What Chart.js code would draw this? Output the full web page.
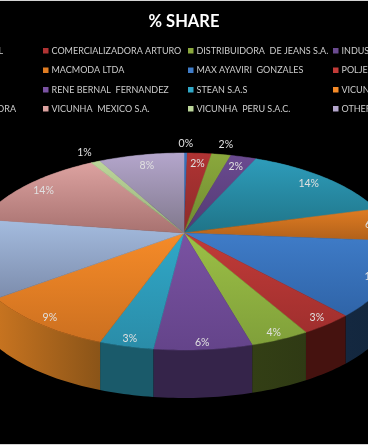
<!DOCTYPE html>
<html>
<head>
<meta charset="utf-8">
<title>% SHARE</title>
<script src="https://cdn.jsdelivr.net/npm/chart.js@4/dist/chart.umd.min.js"></script>
<style>
  html, body { margin: 0; padding: 0; background: #000; overflow: hidden; }
  canvas { display: block; }
</style>
</head>
<body>
<canvas id="share" width="368" height="445"></canvas>
<script>
// names in the first and last legend columns are cut off by the picture edge,
// only the part that can be read is kept
const categories = [
  'L', 'COMERCIALIZADORA ARTURO', 'DISTRIBUIDORA  DE JEANS S.A.', 'INDUS',
  '', 'MACMODA LTDA', 'MAX AYAVIRI  GONZALES', 'POLJE',
  '', 'RENE BERNAL  FERNANDEZ', 'STEAN S.A.S', 'VICUN',
  'ORA', 'VICUNHA  MEXICO S.A.', 'VICUNHA  PERU S.A.C.', 'OTHERS'
];
const shares = [0.3, 2.2, 1.75, 2.35, 14.1, 5.6, 12.1, 3.45, 3.8, 6.2, 3.45, 9.2, 12.8, 14, 0.85, 7.75];

const topColors = ['#3a74bc', '#b03333', '#8aa83c', '#6a4a90', '#2e9cba', '#e07c22', '#3f7cc8', '#c23b38', '#9cc046', '#7a52a2', '#30a8c8', '#f68b28', '#a4bcdf', '#dca2a0', '#bcd69a', '#b4a6cc'];
const lowColors = ['#2a5a98', '#8c2b2a', '#6f8a32', '#533a72', '#1f7488', '#b0601a', '#2f64a8', '#a02f2e', '#80a03a', '#64448a', '#2a8ca8', '#cc7020', '#7c8cac', '#a87270', '#98b07a', '#80788c'];
const wallColors = ['#142840', '#45120f', '#333f15', '#35244a', '#1a5a6a', '#8a5018', '#142840', '#45120f', '#333f15', '#35244a', '#1a5a6a', '#c87420', '#50607c', '#6a4442', '#5c6c48', '#4c4458'];
const wallEnds = ['#142840', '#45120f', '#333f15', '#2e2040', '#1a5a6a', '#8a5018', '#12263c', '#45120f', '#2f3a14', '#35244a', '#1a5a6a', '#8a5418', '#50607c', '#6a4442', '#5c6c48', '#4c4458'];

// perspective of the tilted disc
const apexX = 184, apexY = 233, spanX = 209, spanY = 95, tilt = 0.188, depth = 48;

function project(u, v) {
  const w = 1 - tilt * v;
  return { x: apexX + spanX * u / w, y: apexY + spanY * v / w };
}

function rimPoints(arc) {
  const pts = [];
  const steps = Math.max(2, Math.ceil((arc.endAngle - arc.startAngle) / 0.02));
  for (let i = 0; i <= steps; i++) {
    const a = arc.startAngle + (arc.endAngle - arc.startAngle) * i / steps;
    pts.push(project(Math.cos(a), Math.sin(a)));
  }
  return pts;
}

const tiltedPie = {
  id: 'tiltedPie',
  beforeDraw(chart) {
    const ctx = chart.ctx;
    ctx.fillStyle = '#000';
    ctx.fillRect(0, 0, 368, 445);
    ctx.fillStyle = '#d4d4d4';
    ctx.fillRect(0, 0, 368, 1);
    ctx.fillRect(0, 444, 368, 1);
  },
  beforeDatasetsDraw(chart) {
    const ctx = chart.ctx;
    const arcs = chart.getDatasetMeta(0).data.map(el => el.getProps(['startAngle', 'endAngle']));
    ctx.save();

    // side wall first, the top face paints over the part that is hidden
    arcs.forEach((arc, i) => {
      const pts = rimPoints(arc);
      const g = ctx.createLinearGradient(pts[pts.length - 1].x, 0, pts[0].x, 0);
      g.addColorStop(0, wallColors[i]);
      g.addColorStop(1, wallEnds[i]);
      ctx.fillStyle = g;
      ctx.beginPath();
      pts.forEach((p, k) => k ? ctx.lineTo(p.x, p.y) : ctx.moveTo(p.x, p.y));
      pts.slice().reverse().forEach(p => ctx.lineTo(p.x, p.y + depth));
      ctx.closePath();
      ctx.fill();
    });

    arcs.forEach((arc, i) => {
      const pts = rimPoints(arc);
      const ys = pts.map(p => p.y).concat(apexY);
      const g = ctx.createLinearGradient(0, Math.min(...ys), 0, Math.max(...ys));
      g.addColorStop(0, topColors[i]);
      g.addColorStop(1, lowColors[i]);
      ctx.fillStyle = g;
      ctx.strokeStyle = g;
      ctx.lineWidth = 0.5;
      ctx.beginPath();
      ctx.moveTo(apexX, apexY);
      pts.forEach(p => ctx.lineTo(p.x, p.y));
      ctx.closePath();
      ctx.fill();
      ctx.stroke();
    });

    // percent labels, the thinnest slices get theirs outside the rim
    ctx.font = '10.5px Lato';
    ctx.fillStyle = '#e0e0e0';
    ctx.textAlign = 'center';
    ctx.textBaseline = 'middle';
    arcs.forEach((arc, i) => {
      const mid = (arc.startAngle + arc.endAngle) / 2;
      const u = Math.cos(mid), v = Math.sin(mid);
      const r = shares[i] < 2 ? 1.15 : 0.85 + 0.1 * Math.max(v, 0) + 0.07 * u * u * u * u;
      const p = project(r * u, r * v);
      ctx.fillText(Math.round(shares[i]) + '%', p.x, p.y);
    });
    ctx.restore();
    return false;
  },
  afterDraw(chart) {
    // legend in four columns, filled row by row
    const ctx = chart.ctx;
    const colX = [-102, 43, 188, 333];
    const rowY = [51, 70.5, 90, 109];
    ctx.save();
    ctx.font = '9px Lato';
    ctx.textBaseline = 'middle';
    chart.data.labels.forEach((name, i) => {
      const col = i % 4, y = rowY[Math.floor(i / 4)];
      ctx.fillStyle = '#cccccc';
      if (col === 0) {
        // only the tail of the name shows at the left edge
        ctx.textAlign = 'right';
        ctx.fillText(name, name.length > 1 ? 16 : 3, y);
        return;
      }
      ctx.textAlign = 'left';
      ctx.fillText(name, colX[col] + 8.5, y);
      ctx.fillStyle = topColors[i];
      ctx.fillRect(colX[col], y - 3, 5.5, 5.5);
    });
    ctx.restore();
  }
};

new Chart(document.getElementById('share'), {
  type: 'pie',
  data: {
    labels: categories,
    datasets: [{ data: shares, backgroundColor: topColors, borderWidth: 0 }]
  },
  options: {
    responsive: false,
    animation: false,
    plugins: {
      legend: { display: false },
      tooltip: { enabled: false },
      title: {
        display: true,
        text: '% SHARE',
        color: '#ffffff',
        font: { family: 'Lato', size: 16.5, weight: 'bold' },
        padding: { top: 12, bottom: 10 }
      }
    }
  },
  plugins: [tiltedPie]
});
</script>
</body>
</html>
